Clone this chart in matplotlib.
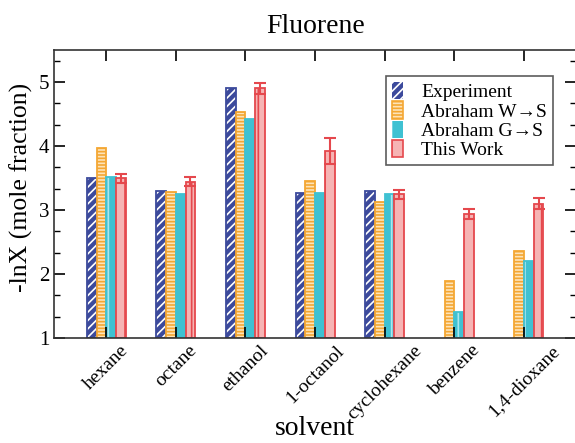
import numpy as np
import matplotlib
matplotlib.use('Agg')
import matplotlib.pyplot as plt
from matplotlib.patches import Patch
from matplotlib.ticker import AutoMinorLocator

plt.rcParams['font.family'] = ['Liberation Serif', 'DejaVu Serif']
plt.rcParams['hatch.linewidth'] = 1.2

solvents = ['hexane', 'octane', 'ethanol', '1-octanol', 'cyclohexane', 'benzene', '1,4-dioxane']
experiment = [3.50, 3.29, 4.90, 3.26, 3.29, np.nan, np.nan]
abraham_ws = [3.97, 3.28, 4.53, 3.46, 3.13, 1.89, 2.36]
abraham_gs = [3.52, 3.25, 4.43, 3.27, 3.25, 1.41, 2.20]
this_work = [3.50, 3.44, 4.90, 3.92, 3.25, 2.94, 3.10]
this_work_err = [0.07, 0.07, 0.08, 0.20, 0.07, 0.08, 0.09]

blue = '#3c4a9c'
orange = '#f4a733'
cyan = '#3fc1d2'
red = '#e5484d'
pink = '#f6b4b4'

x = np.arange(len(solvents))
w = 0.14
base = 1.0

fig = plt.figure(figsize=(5.75, 4.43), dpi=100)
ax = fig.add_axes([0.094, 0.237, 0.908, 0.650])

def h(vals):
    return np.array(vals) - base

# Experiment: blue with white diagonal stripes
ax.bar(x - 1.5*w, h(experiment), w, bottom=base, color=blue, edgecolor='white',
       hatch='////', linewidth=0)
ax.bar(x - 1.5*w, h(experiment), w, bottom=base, fill=False, edgecolor=blue, linewidth=1.3)
# Abraham W->S: orange horizontal stripes
ax.bar(x - 0.5*w, h(abraham_ws), w, bottom=base, color='#fde3b8', edgecolor=orange,
       hatch='-----', linewidth=1.3)
# Abraham G->S: cyan vertical stripes
ax.bar(x + 0.5*w, h(abraham_gs), w, bottom=base, color=cyan, edgecolor='#a9e6ee',
       hatch='|', linewidth=0)
ax.bar(x + 0.5*w, h(abraham_gs), w, bottom=base, fill=False, edgecolor=cyan, linewidth=1.3)
# This Work
ax.bar(x + 1.5*w, h(this_work), w, bottom=base, color=pink, edgecolor=red,
       hatch='|', linewidth=1.3)
ax.errorbar(x + 1.5*w, this_work, yerr=this_work_err, fmt='none', ecolor=red,
            elinewidth=1.5, capsize=4, capthick=1.5)

ax.set_xlim(-0.75, 6.75)
ax.set_ylim(1, 5.5)
ax.set_yticks([1, 2, 3, 4, 5])
ax.yaxis.set_minor_locator(AutoMinorLocator(3))
ax.set_xticks(x)
ax.set_xticklabels(solvents, rotation=45, ha='center', va='top', fontsize=14)
ax.tick_params(axis='both', which='major', direction='in', length=8, width=1.2,
               top=True, right=True)
ax.tick_params(axis='y', labelsize=15)
ax.tick_params(axis='y', which='minor', direction='in', length=4, width=1,
               right=True)
ax.tick_params(axis='x', pad=3)

for s in ax.spines.values():
    s.set_linewidth(1.2)
    s.set_color('#333333')

ax.set_title('Fluorene', fontsize=20, pad=12)
ax.set_ylabel('-lnX (mole fraction)', fontsize=18.5)
ax.yaxis.set_label_coords(-0.040, 0.524)
ax.set_xlabel('solvent', fontsize=20, labelpad=-5)

handles = [
    Patch(facecolor=blue, edgecolor='white', hatch='////', linewidth=0),
    Patch(facecolor='#fde3b8', edgecolor=orange, hatch='-----', linewidth=1.2),
    Patch(facecolor=cyan, edgecolor='#a9e6ee', hatch='|', linewidth=0),
    Patch(facecolor=pink, edgecolor=red, hatch='|', linewidth=1.2),
]
labels = ['Experiment', 'Abraham W\u2192S', 'Abraham G\u2192S', 'This Work']
leg = ax.legend(handles, labels, loc='upper right', bbox_to_anchor=(0.955, 0.91),
                fontsize=14, frameon=True, fancybox=False, edgecolor='#333333',
                labelspacing=0.0, handlelength=0.6, handleheight=1.0,
                handletextpad=0.9, borderpad=0.3, borderaxespad=0)
leg.get_frame().set_linewidth(1.2)

fig.savefig('out.png', dpi=100, facecolor='white')
